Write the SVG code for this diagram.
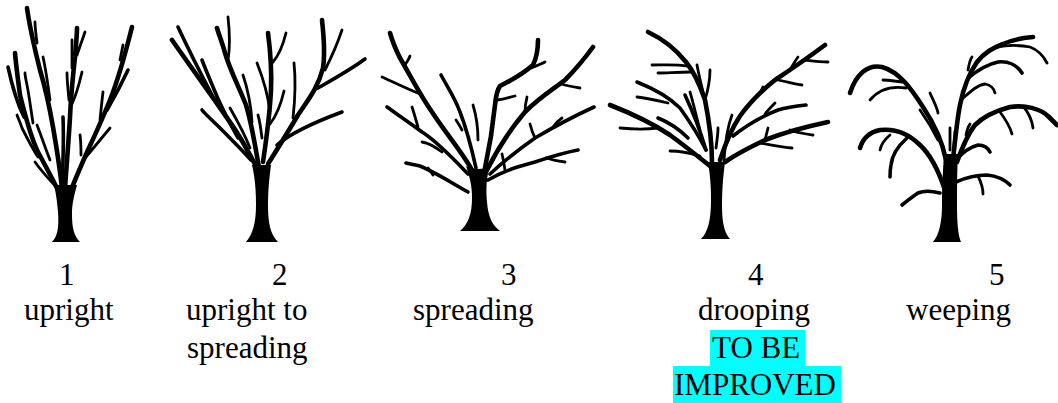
<svg xmlns="http://www.w3.org/2000/svg" width="1058" height="403" viewBox="0 0 1058 403">
<style>
.b{fill:none;stroke:#000;stroke-linecap:round;stroke-linejoin:round;stroke-width:3.6}
.m{stroke-width:4.6}
.t{stroke-width:2.8}
.k{fill:#000}
.lbl{font-family:"Liberation Serif","Times New Roman",serif;font-size:31px;fill:#000}
.hl{fill:#00ffff}
</style>
<rect width="1058" height="403" fill="#fff"/>

<g id="tree1">
<path class="k" d="M52,242 C58,236 59,226 58,212 C57,200 56,194 54,185 L77,185 C74,196 72,204 72,214 C72,228 74,236 80,242 Z"/>
<path class="b m" d="M58,190 C52,178 45,165 38,152 C31,138 25,115 20,95 C18,80 16,65 15,53"/>
<path class="b" d="M24,117 C18,105 13,90 8,67"/>
<path class="b t" d="M38,157 C32,148 27,138 22,128 C20,122 18,118 17,115"/>
<path class="b t" d="M33,123 C31,110 29,95 27,85 C26,80 25,76 25,73"/>
<path class="b m" d="M62,188 C60,170 57,150 53,127 C50,110 46,90 40,70 C35,50 30,30 27,8"/>
<path class="b t" d="M37,43 C36,35 35,28 35,22"/>
<path class="b t" d="M50,100 C48,85 46,70 43,57"/>
<path class="b t" d="M50,160 C46,150 42,138 37,125"/>
<path class="b t" d="M57,188 C50,180 42,172 35,162"/>
<path class="b" d="M62,188 C63,165 64,140 63,117"/>
<path class="b m" d="M65,188 C67,160 69,135 70,117 C71,95 73,75 75,57 C76,45 77,35 77,28"/>
<path class="b t" d="M72,68 C72,58 72,48 72,40"/>
<path class="b t" d="M77,55 C80,46 83,38 85,32"/>
<path class="b t" d="M72,104 C76,95 79,85 82,72"/>
<path class="b t" d="M69,100 C68,90 67,80 67,73"/>
<path class="b t" d="M81,155 C81,148 81,142 80,135"/>
<path class="b m" d="M71,190 C75,180 80,168 88,150 C95,135 102,120 110,100 C118,80 125,55 132,27"/>
<path class="b t" d="M120,60 C121,55 122,50 123,45"/>
<path class="b" d="M107,110 C114,98 121,85 128,70"/>
<path class="b t" d="M85,158 C92,150 100,140 110,128"/>
<path class="b t" d="M100,120 C101,110 102,100 103,92"/>
</g>

<g id="tree2">
<path class="k" d="M246,242 C253,234 256,222 256,205 C256,190 255,178 252,165 L271,165 C269,180 268,192 268,205 C268,222 270,234 278,242 Z"/>
<path class="b m" d="M257,168 C250,155 240,135 227,118 C215,100 200,80 172,40"/>
<path class="b" d="M212,95 C203,78 192,57 178,27"/>
<path class="b" d="M238,138 C228,120 220,105 213,87 C208,75 205,68 202,60"/>
<path class="b m" d="M259,168 C256,150 252,125 246,105 C238,85 230,70 225,53 C222,42 219,35 217,28"/>
<path class="b t" d="M228,60 C230,48 230,35 228,17"/>
<path class="b" d="M251,160 C240,148 230,138 220,128 C212,120 206,115 202,110"/>
<path class="b t" d="M250,148 C245,135 238,122 230,108"/>
<path class="b t" d="M252,122 C251,105 248,90 243,75"/>
<path class="b t" d="M270,112 C268,95 263,78 257,63"/>
<path class="b m" d="M263,162 C267,135 270,110 271,90 C272,65 270,48 268,33"/>
<path class="b t" d="M273,62 C279,55 283,45 286,33"/>
<path class="b t" d="M270,124 C277,115 281,104 284,91"/>
<path class="b t" d="M262,138 C261,130 260,122 258,115"/>
<path class="b m" d="M268,164 C278,148 288,132 298,115 C308,100 318,88 323,68 C325,55 324,38 322,20"/>
<path class="b t" d="M325,70 C331,58 337,45 342,30"/>
<path class="b" d="M318,88 C332,80 350,70 365,59"/>
<path class="b t" d="M293,118 C295,100 296,82 294,63"/>
<path class="b" d="M277,145 C292,132 315,122 342,112"/>
</g>

<g id="tree3">
<path class="k" d="M460,231 C468,224 472,214 472,198 C472,186 470,178 466,166 C472,170 484,170 490,166 C486,178 486,190 487,202 C488,216 492,225 500,231 Z"/>
<path class="b m" d="M472,170 C462,152 447,135 432,112 C420,95 410,75 400,58 C395,48 392,40 390,33"/>
<path class="b t" d="M420,94 C405,88 393,82 382,77"/>
<path class="b t" d="M404,66 C407,62 409,59 410,56"/>
<path class="b" d="M468,174 C450,155 435,140 422,132 C410,123 398,115 387,107"/>
<path class="b t" d="M418,127 C416,120 414,113 412,107"/>
<path class="b t" d="M442,152 C434,146 428,143 422,142"/>
<path class="b" d="M468,192 C450,182 435,172 420,166 C415,165 410,164 406,163"/>
<path class="b t" d="M433,175 C431,172 430,170 428,168"/>
<path class="b" d="M476,168 C472,150 467,130 460,112 C455,98 448,88 441,75"/>
<path class="b t" d="M478,140 C478,128 477,118 473,105"/>
<path class="b t" d="M462,130 C460,126 458,123 456,120"/>
<path class="b m" d="M485,168 C490,145 493,125 495,105 C496,95 497,90 500,86 C512,80 525,72 533,65 C537,57 538,48 538,40"/>
<path class="b t" d="M531,68 C536,66 541,64 545,62"/>
<path class="b t" d="M497,100 C505,99 510,97 515,96"/>
<path class="b m" d="M487,170 C496,152 508,132 525,112 C540,97 555,88 565,80 C577,68 585,58 593,47"/>
<path class="b t" d="M561,84 C568,86 574,87 580,88"/>
<path class="b t" d="M525,112 C525,106 526,101 527,97"/>
<path class="b" d="M490,174 C505,160 518,150 535,138 C552,128 570,118 594,107"/>
<path class="b t" d="M535,138 C532,132 531,128 530,124"/>
<path class="b t" d="M553,127 C556,123 559,120 562,118"/>
<path class="b" d="M488,180 C505,170 520,166 535,162 C550,157 562,153 578,150"/>
<path class="b t" d="M546,158 C552,160 558,161 565,162"/>
<path class="b t" d="M505,170 C504,163 503,158 502,154"/>
</g>

<g id="tree4">
<path class="k" d="M701,239 C708,232 711,220 711,200 C711,185 710,175 708,162 L725,162 C723,178 722,190 722,205 C722,222 724,232 730,239 Z"/>
<path class="b m" d="M712,163 C712,145 710,125 705,100 C700,85 694,72 686,62 C678,52 665,40 648,32"/>
<path class="b t" d="M688,66 C675,64 662,65 652,65"/>
<path class="b t" d="M691,72 C678,72 667,73 658,73"/>
<path class="b t" d="M705,100 C702,88 699,76 697,65"/>
<path class="b t" d="M705,100 C708,90 710,80 710,70"/>
<path class="b" d="M706,150 C700,138 690,122 680,108 C668,96 652,88 637,82"/>
<path class="b t" d="M668,103 C655,100 646,98 637,97"/>
<path class="b m" d="M710,166 C700,158 685,146 670,135 C655,125 633,114 610,105"/>
<path class="b t" d="M658,128 C643,130 630,129 620,128"/>
<path class="b" d="M688,138 C678,128 668,122 658,118"/>
<path class="b t" d="M700,156 C690,153 680,151 670,151"/>
<path class="b" d="M706,150 C700,130 692,110 685,95"/>
<path class="b t" d="M700,130 C696,115 693,102 690,92"/>
<path class="b t" d="M716,148 C717,140 718,134 718,128"/>
<path class="b t" d="M724,160 C725,145 727,128 732,115"/>
<path class="b m" d="M720,160 C725,145 732,128 740,116 C750,102 760,92 775,80 C790,70 805,60 825,45"/>
<path class="b t" d="M790,70 C793,65 795,61 798,57"/>
<path class="b t" d="M805,60 C813,61 820,62 828,62"/>
<path class="b t" d="M778,80 C788,82 795,84 802,85"/>
<path class="b t" d="M757,96 C760,93 762,90 763,87"/>
<path class="b" d="M733,136 C748,124 765,115 778,110 C788,107 797,106 806,105"/>
<path class="b t" d="M765,114 C768,110 772,106 775,103"/>
<path class="b m" d="M725,162 C735,155 748,148 765,140 C780,134 800,128 828,122"/>
<path class="b t" d="M790,130 C798,133 806,134 813,135"/>
<path class="b t" d="M760,143 C772,145 782,147 792,148"/>
<path class="b t" d="M765,140 C766,136 767,132 768,128"/>
</g>

<g id="tree5">
<path class="k" d="M933,242 C939,235 942,222 942,205 C942,185 943,170 944,154 L958,154 C957,170 957,188 957,205 C957,222 958,235 961,242 Z"/>
<path class="b m" d="M946,160 C943,145 935,125 923,107 C912,90 900,72 882,67 C868,64 856,74 850,93"/>
<path class="b t" d="M906,88 C893,86 880,88 870,100"/>
<path class="b t" d="M902,82 C893,81 888,80 883,80"/>
<path class="b t" d="M930,93 C933,100 937,107 938,113"/>
<path class="b t" d="M920,110 C927,120 933,130 938,140"/>
<path class="b m" d="M945,190 C940,175 933,157 920,145 C910,135 898,128 880,130 C870,132 863,138 860,148"/>
<path class="b t" d="M890,135 C884,140 881,145 880,150"/>
<path class="b" d="M907,138 C898,146 892,155 891,165 C890,170 890,174 890,177"/>
<path class="b" d="M940,193 C932,191 925,190 918,193 C912,197 907,201 902,205"/>
<path class="b t" d="M950,150 C950,143 950,137 950,128"/>
<path class="b t" d="M954,148 C954,142 955,138 955,132"/>
<path class="b m" d="M953,160 C955,140 957,120 960,105 C963,90 968,75 977,62 C985,52 993,48 1003,44 C1012,40 1022,38 1033,37"/>
<path class="b t" d="M996,47 C1008,45 1020,45 1030,47 C1038,50 1043,55 1047,63"/>
<path class="b" d="M968,78 C978,70 988,64 998,62 C1008,61 1017,65 1022,73"/>
<path class="b t" d="M961,100 C970,92 977,85 985,84 C990,85 994,88 995,93"/>
<path class="b t" d="M968,70 C969,64 970,60 972,57"/>
<path class="b m" d="M957,162 C962,148 967,135 975,125 C983,117 995,111 1010,107 C1025,105 1040,108 1049,117 C1052,120 1055,123 1057,125"/>
<path class="b t" d="M1000,112 C1006,120 1010,127 1012,134"/>
<path class="b t" d="M1023,106 C1028,112 1032,120 1033,128"/>
<path class="b t" d="M966,135 C967,130 968,127 970,124"/>
<path class="b" d="M956,160 C963,152 970,147 978,145 C984,145 988,148 990,152"/>
<path class="b" d="M956,182 C965,178 975,175 987,175 C997,176 1005,180 1010,185"/>
<path class="b t" d="M978,176 C981,182 983,188 983,194"/>
</g>

<g id="labels">
<text class="lbl" x="59" y="285">1</text>
<text class="lbl" x="24" y="320">upright</text>
<text class="lbl" x="272" y="285">2</text>
<text class="lbl" x="186" y="320">upright to</text>
<text class="lbl" x="187" y="358">spreading</text>
<text class="lbl" x="501" y="285">3</text>
<text class="lbl" x="413" y="320">spreading</text>
<text class="lbl" x="748" y="285">4</text>
<text class="lbl" x="698" y="320">drooping</text>
<rect class="hl" x="710" y="330" width="95" height="36"/>
<rect class="hl" x="673" y="366" width="168" height="37"/>
<text class="lbl" x="712" y="358">TO BE</text>
<text class="lbl" x="674" y="395">IMPROVED</text>
<text class="lbl" x="989" y="285">5</text>
<text class="lbl" x="906" y="320">weeping</text>
</g>
</svg>
